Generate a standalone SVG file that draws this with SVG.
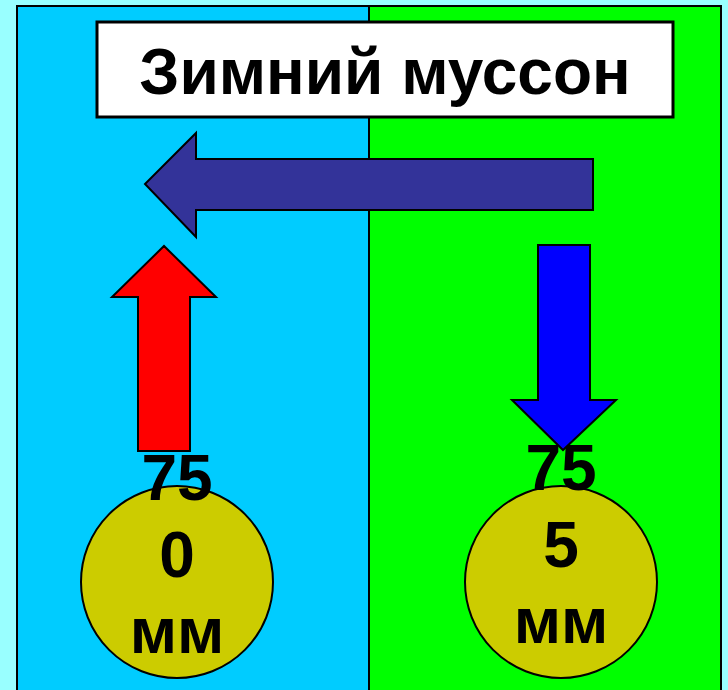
<svg xmlns="http://www.w3.org/2000/svg" width="728" height="690" viewBox="0 0 728 690">
<style>
.ln{stroke:#000;stroke-width:2}
.t{font-family:"Liberation Sans",Arial,sans-serif;font-weight:bold;font-size:64px;fill:#000;text-anchor:middle}
.circ{fill:#CCCC00;stroke:#000;stroke-width:2}
</style>
<rect x="0" y="0" width="728" height="690" fill="#99FFFF"/>
<g id="left-panel"><rect x="17" y="6" width="352" height="700" fill="#00CCFF" class="ln"/></g>
<g id="right-panel"><rect x="369" y="6" width="352" height="700" fill="#00FF00" class="ln"/></g>
<g id="title">
<rect x="97" y="22" width="576" height="95" fill="#FFFFFF" stroke="#000" stroke-width="3"/>
<text class="t" x="385" y="94">Зимний муссон</text>
</g>
<g id="left-gauge">
<circle class="circ" cx="177" cy="582" r="96"/>
<text class="t" x="177" y="500">75</text>
<text class="t" x="177" y="577">0</text>
<text class="t" x="177" y="653">мм</text>
</g>
<g id="right-gauge">
<circle class="circ" cx="561" cy="582" r="96"/>
<text class="t" x="561" y="490">75</text>
<text class="t" x="561" y="567">5</text>
<text class="t" x="561" y="643">мм</text>
</g>
<g id="connectors">
<polygon id="wind-arrow" points="593,159 196,159 196,133 145,184 196,237 196,210 593,210" fill="#333399" class="ln"/>
<polygon id="up-arrow" points="138,451 138,297 112,297 164,246 216,297 190,297 190,451" fill="#FF0000" class="ln"/>
<polygon id="down-arrow" points="538,245 590,245 590,400 616,400 563,450 512,400 538,400" fill="#0000FF" class="ln"/>
</g>
</svg>
